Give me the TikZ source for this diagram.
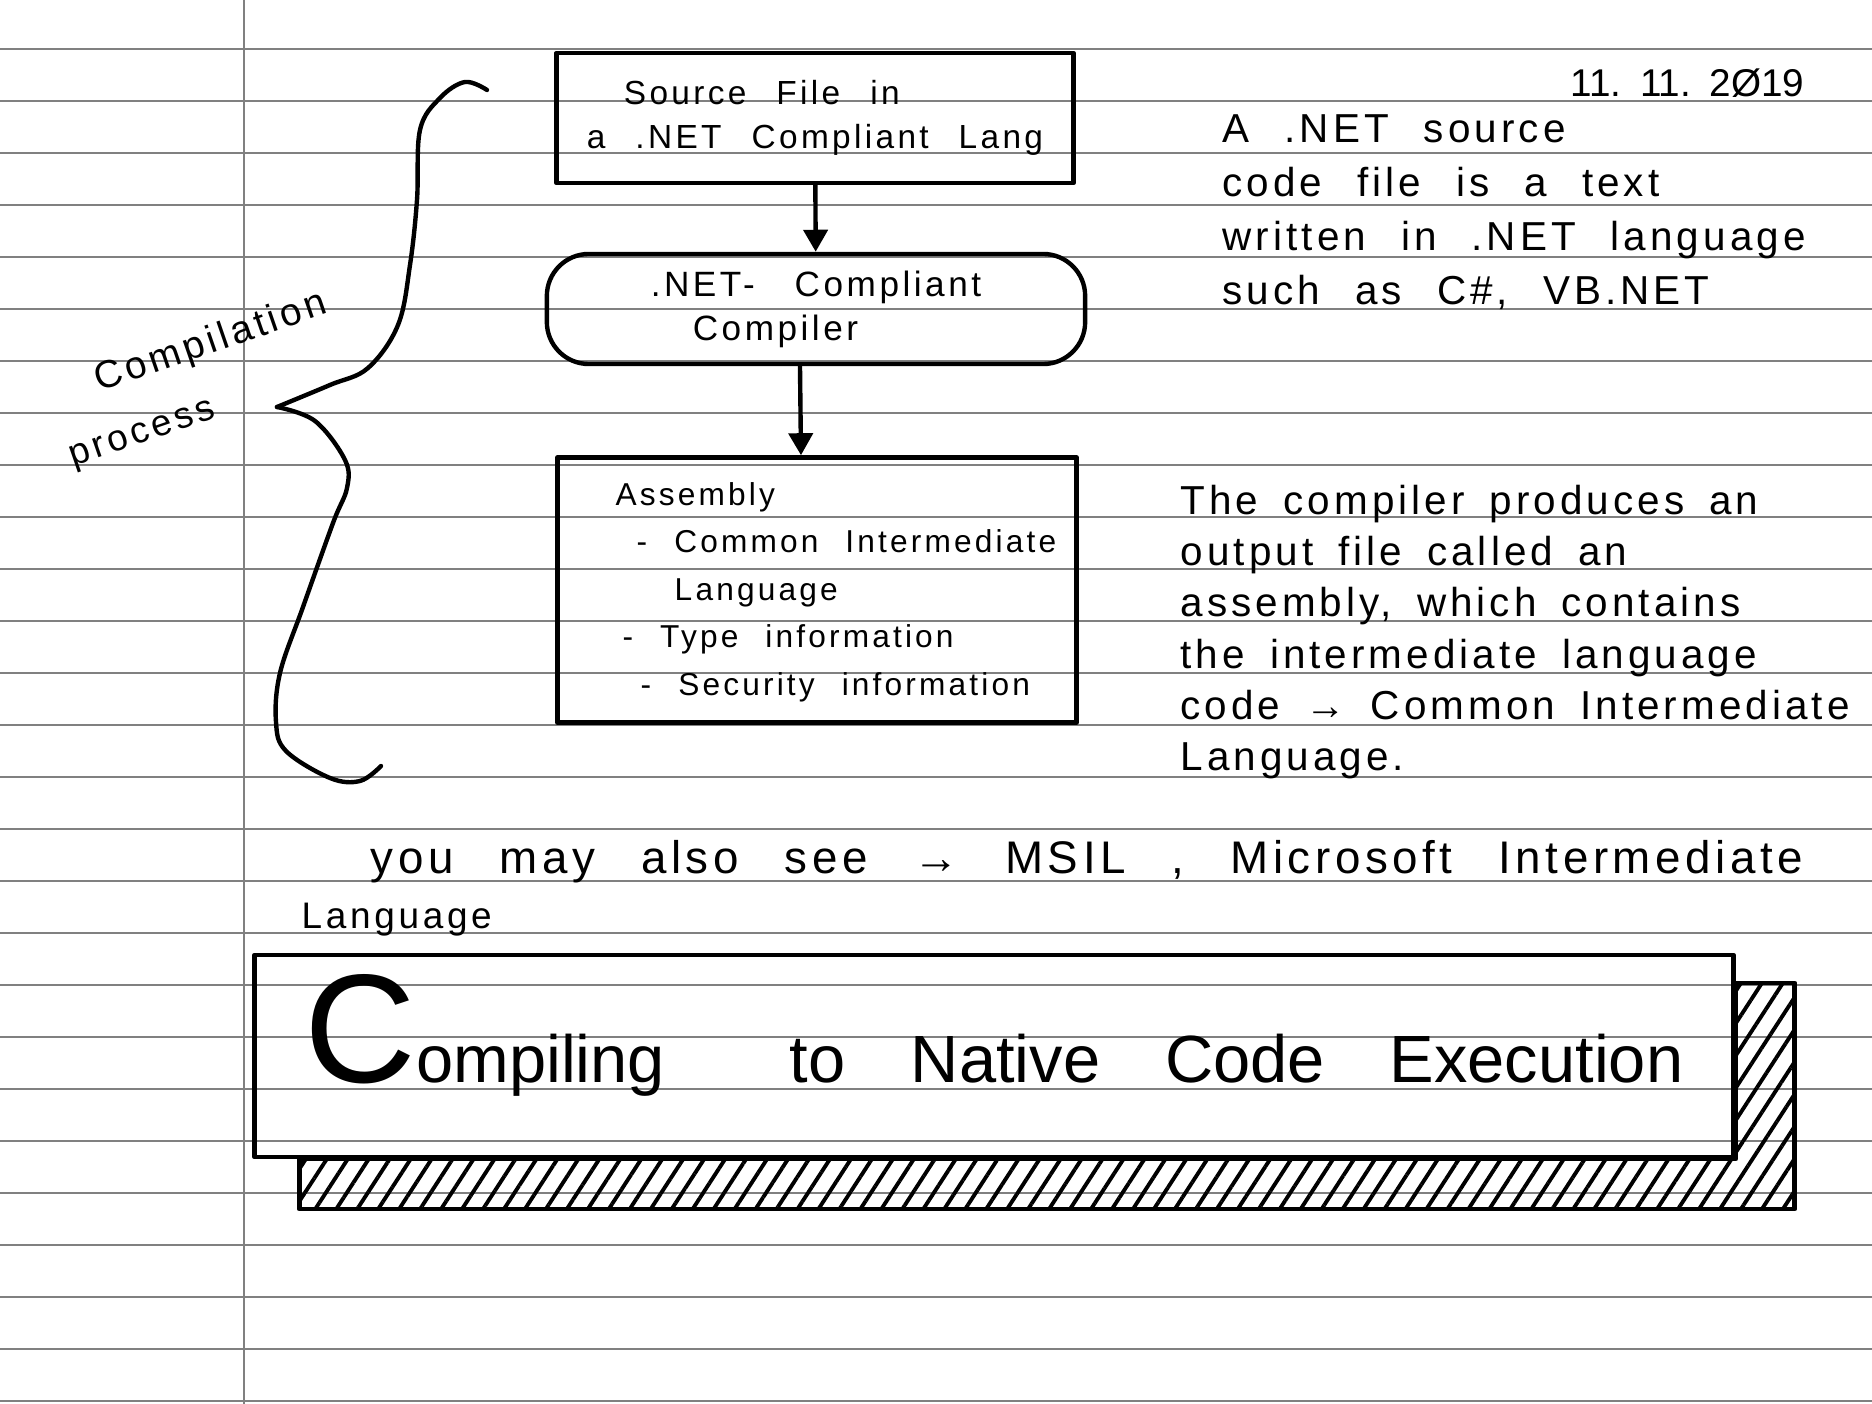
\documentclass[tikz,border=0pt]{standalone}
\usepackage{fontspec}
\newfontfamily\hand[LetterSpace=10]{Liberation Sans}
\newfontfamily\handplain{Liberation Sans}
\newcommand\wordgap[1]{\spaceskip #1\relax}
\usetikzlibrary{arrows.meta,positioning,patterns.meta}

\begin{document}
\begin{tikzpicture}[
  x=0.01cm, y=-0.01cm,
  rule/.style={draw=black!50, line width=0.55pt},
  pen/.style={line width=1.25pt, line cap=round, line join=round},
  block/.style={rectangle, draw, pen, align=left, inner sep=0pt, font=\hand\fontsize{10}{12.5}\selectfont\wordgap{0.3cm}},
  arrow/.style={pen, -{Triangle[length=0.22cm,width=0.24cm]}},
  note/.style={anchor=west, align=left, inner sep=0pt}
]
  \useasboundingbox (0,0) rectangle (1872,1404);

  % ruled paper
  \foreach \k in {0,...,26}
    \draw[rule] (0,{49.3+52*\k}) -- (1872,{49.3+52*\k});
  \draw[rule] (244.3,0) -- (244.3,1404);

  % flow chart
  \node[block, minimum width=5.17cm, minimum height=1.30cm, font=\hand\fontsize{9.5}{12.5}\selectfont\wordgap{0.3cm}] (src) at (815,118)
    {\hspace*{0.37cm}Source File in\\a .NET Compliant Lang};
  \node[block, rounded corners=0.42cm, minimum width=5.38cm, minimum height=1.10cm] (comp) at (816,309)
    {.NET-\hspace{0.1cm} Compliant\\\hspace*{0.42cm}Compiler};
  \node[block, minimum width=5.19cm, minimum height=2.65cm] (asm) at (817,590) {};
  \node[note, font=\hand\fontsize{9}{13.5}\selectfont\wordgap{0.27cm}] (asmtext) at (615,592) {Assembly\\
    \hspace*{0.21cm}- Common Intermediate\\
    \hspace*{0.59cm}Language\\
    \hspace*{0.07cm}- Type information\\
    \hspace*{0.25cm}- Security information};

  \draw[arrow] (src) -- (comp);
  \draw[arrow] ([xshift=-0.16cm]comp.south) -- ([xshift=-0.16cm]asm.north);

  % brace
  \draw[pen] plot[smooth, tension=0.6] coordinates {(487,90) (465,82) (440,98) (420,130) (417,200) (410,265) (398,325) (368,368) (330,385) (277,407)};
  \draw[pen] plot[smooth, tension=0.6] coordinates {(277,407) (315,421) (345,460) (347,488) (333,523) (303,607) (280,673) (276,722) (286,751) (330,778) (360,781) (381,766)};
  \node[font=\hand\fontsize{11}{13}\selectfont, rotate=19, inner sep=0pt] (compil) at (211,343) {Compilation};
  \node[font=\hand\fontsize{10.5}{13}\selectfont, rotate=19, inner sep=0pt] (proc) at (143,436) {process};

  % notes
  \node[note, font=\handplain\fontsize{11}{13}\selectfont\wordgap{0.15cm}] (date) at (1570,83) {11. 11. 2Ø19};
  \node[note, font=\hand\fontsize{11.5}{15.4}\selectfont\wordgap{0.35cm}] (note1) at (1222,212) {A .NET source\\code file is a text\\written in .NET language\\such as C\#, VB.NET};
  \node[note, font=\hand\fontsize{11.5}{14.6}\selectfont\wordgap{0.25cm}] (note2) at (1180,632) {The compiler produces an\\output file called an\\assembly, which contains\\the intermediate language\\code → Common Intermediate\\Language.};
  \node[note, font=\hand\fontsize{13}{15}\selectfont\wordgap{0.46cm}] (msil) at (370,862) {you may also see → MSIL , Microsoft Intermediate};
  \node[note, font=\hand\fontsize{10.5}{12}\selectfont] (lang) at (301,920) {Language};

  % title box with hatched shadow
  \node[draw, pen, minimum width=14.78cm, minimum height=2.02cm, inner sep=0pt, text depth=0.55cm,
    font=\handplain\fontsize{19}{19}\selectfont\wordgap{0.65cm}] (native) at (994,1056)
    {{\fontsize{44}{44}\selectfont C}ompiling\hspace{0.6cm} to Native Code Execution};
  \draw[pen, pattern={Lines[angle=57,distance=5pt,line width=1.1pt]}]
    ([shift={(0,30)}]native.north east) -- ([shift={(59,30)}]native.north east)
    -- ([shift={(59,50)}]native.south east) -- ([shift={(47,50)}]native.south west)
    -- ([shift={(47,0)}]native.south west) -- (native.south east) -- cycle;
\end{tikzpicture}
\end{document}
